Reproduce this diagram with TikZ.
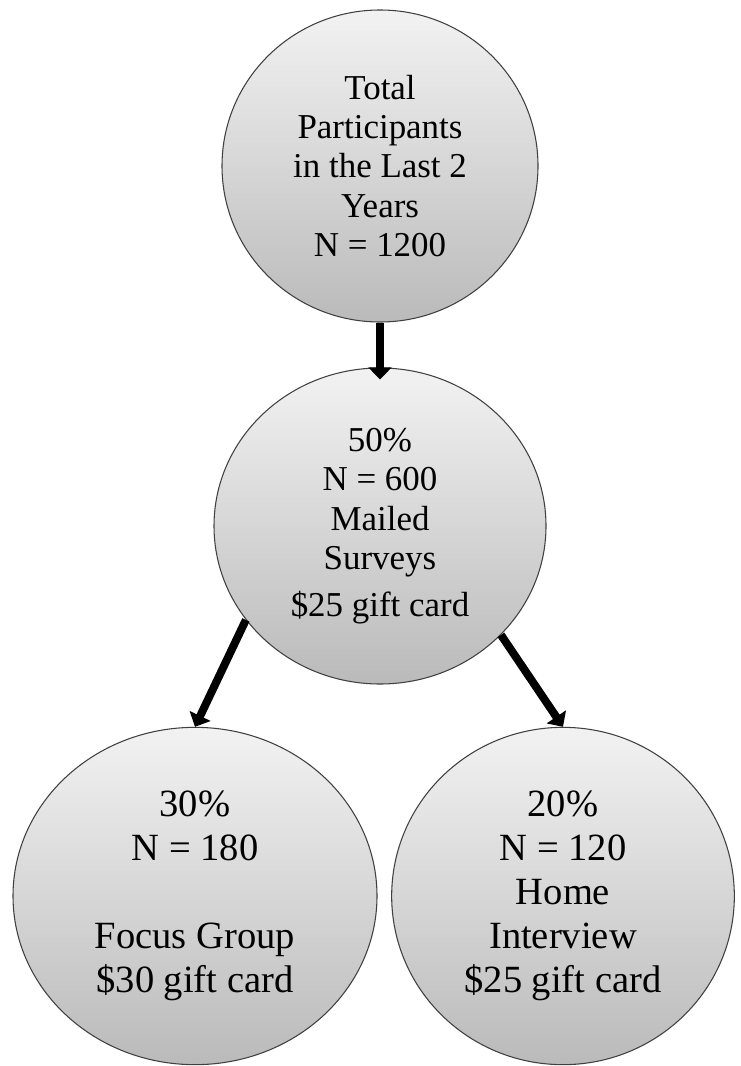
\documentclass[tikz,border=0pt]{standalone}
\usepackage{fontspec}
\setmainfont{Liberation Serif}
\usetikzlibrary{shapes.geometric, arrows.meta, positioning}
\tikzstyle{arrow} = [line width=6pt, -{Triangle[length=9pt,width=17pt]}]

\begin{document}
\begin{tikzpicture}[
  x=0.75pt, y=-0.75pt,
  group/.style={ellipse, draw=black!75, line width=0.8pt, top color=black!5, bottom color=black!27, align=center, inner sep=0pt},
  upper/.style={font=\fontsize{26.2}{29.6}\selectfont},
  lower/.style={font=\fontsize{28.9}{33}\selectfont}
]
\useasboundingbox (0,0) rectangle (740,1066);

\node[group, upper, minimum width=237pt, minimum height=234pt] (total) at (380,166) {Total\\Participants\\in the Last 2\\Years\\N = 1200};

\node[group, upper, minimum width=249pt, minimum height=237pt] (mail) at (380,526) {50\%\\N = 600\\Mailed\\Surveys\\[5.6pt]\$25 gift card};

\node[group, lower, minimum width=273pt, minimum height=253pt] (focus) at (195,896) {30\%\\N = 180\\[33pt]Focus Group\\\$30 gift card};
\node[group, lower, minimum width=257pt, minimum height=253pt] (home) at (563,896) {20\%\\N = 120\\Home\\Interview\\\$25 gift card};

\draw[arrow, shorten >=-9pt] (total.south) -- (mail.north);
\draw[arrow] (mail.215) -- (focus.north);
\draw[arrow] (mail.318) -- (home.north);

\end{tikzpicture}
\end{document}
